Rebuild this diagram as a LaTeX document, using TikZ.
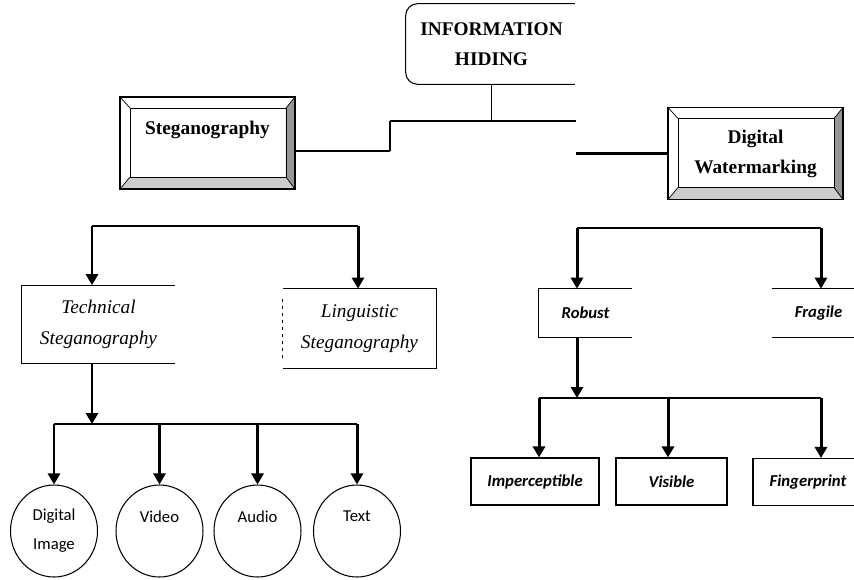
\documentclass[tikz,border=0pt]{standalone}
\usepackage{fontspec}
\setmainfont{Liberation Serif}
\newfontfamily\calibri{Carlito}
\usepackage{tikz}
\usetikzlibrary{arrows.meta}
\usetikzlibrary{shapes.geometric}
\definecolor{bevellight}{HTML}{CCCCCC}
\definecolor{beveldark}{HTML}{969696}
\tikzstyle{boxline}=[line width=0.6pt]
\tikzstyle{link}=[line width=0.7pt]
\tikzstyle{heavylink}=[line width=1.2pt]
\tikzstyle{forkline}=[line width=1.4pt]
\tikzstyle{flow}=[line width=1.7pt, -{Triangle[length=2.2mm,width=2.4mm]}]
\tikzstyle{hidebox}=[inner sep=0pt, minimum width=3.42cm, minimum height=1.6cm, align=center, font=\fontsize{11}{17}\selectfont\bfseries]
\tikzstyle{bevel}=[draw, line width=0.8pt, inner sep=0pt, minimum width=3.5cm, minimum height=1.84cm, align=center, font=\fontsize{11}{17}\selectfont\bfseries,
  path picture={
    \fill[bevellight] (path picture bounding box.south west) -- (path picture bounding box.south east)
      -- ++(-0.18cm,0.24cm) -- ++(-3.12cm,0cm) -- cycle;
    \fill[beveldark] (path picture bounding box.south east) -- (path picture bounding box.north east)
      -- ++(-0.18cm,-0.22cm) -- ++(0cm,-1.38cm) -- cycle;
    \draw[line width=0.5pt] ([shift={(0.2cm,0.24cm)}]path picture bounding box.south west) rectangle ++(3.12cm,1.38cm);
    \draw[line width=0.4pt] (path picture bounding box.north west) -- ++(0.2cm,-0.22cm);
    \draw[line width=0.4pt] (path picture bounding box.north east) -- ++(-0.18cm,-0.22cm);
    \draw[line width=0.4pt] (path picture bounding box.south west) -- ++(0.2cm,0.24cm);
    \draw[line width=0.4pt] (path picture bounding box.south east) -- ++(-0.18cm,0.24cm);
  }]
\tikzstyle{stbox}=[inner sep=0pt, minimum width=3.06cm, minimum height=1.56cm, align=center, font=\fontsize{11}{17.6}\selectfont\itshape]
\tikzstyle{sbox}=[inner sep=0pt, minimum width=1.86cm, minimum height=0.96cm, font=\fontsize{9.5}{16.5}\calibri\bfseries\itshape]
\tikzstyle{tbox}=[draw, boxline, inner sep=0pt, minimum height=0.94cm, font=\fontsize{9.5}{16.5}\calibri\bfseries\itshape]
\tikzstyle{media}=[draw, ellipse, boxline, inner sep=0pt, minimum width=1.74cm, minimum height=1.84cm, align=center, font=\fontsize{9.5}{16.5}\calibri]

\begin{document}
\begin{tikzpicture}[x=0.02cm, y=-0.02cm]
    \useasboundingbox (0,0) rectangle (854,579);
    % top level
    \node[hidebox] (hid) at (491.5,44) {INFORMATION\\HIDING};
    \draw[boxline, rounded corners=0.24cm] ([xshift=-0.05cm]hid.north east) -- (hid.north west) -- (hid.south west) -- ([xshift=-0.05cm]hid.south east);
    \node[bevel] (steg) at (207.5,143) {Steganography\\~};
    \node[bevel] (wm) at (755.5,153.5) {Digital\\Watermarking};
    \coordinate (lelbow) at (390,121);
    \coordinate (relbow) at (576,121);
    \coordinate (stegarm) at ([yshift=-0.16cm]steg.east);
    \draw[link] (hid.south) -- (hid.south |- lelbow);
    \draw[link] (lelbow) -- (relbow);
    \draw[link] (lelbow) -- (lelbow |- stegarm);
    \draw[heavylink] (lelbow |- stegarm) -- (stegarm);
    \draw[heavylink] (relbow |- wm.west) -- (wm.west);
    % steganography branch
    \node[stbox] (tech) at (98.5,324.5) {Technical\\Steganography};
    \node[stbox, minimum height=1.58cm] (ling) at (359.5,328.5) {Linguistic\\Steganography};
    \draw[boxline] (tech.north east) -- (tech.north west) -- (tech.south west) -- (tech.south east);
    \draw[boxline] (ling.north west) -- (ling.north east) -- (ling.south east) -- (ling.south west);
    \draw[boxline, dash pattern=on 2pt off 2pt] ([yshift=-0.2cm]ling.north west) -- ([yshift=0.2cm]ling.south west);
    \coordinate (ltop) at (92,226);
    \coordinate (lingtop) at (358,226);
    \draw[link] (ltop) -- (lingtop);
    \draw[flow] (ltop) -- (ltop |- tech.north);
    \draw[flow] (lingtop) -- (lingtop |- ling.north);
    \node[media] (img) at (54,531) {Digital\\Image};
    \node[media] (vid) at (159.5,531) {Video\\~};
    \node[media] (aud) at (257.5,531) {Audio\\~};
    \node[media] (txt) at (357,531) {Text\\~};
    \coordinate (lfork) at (92,424);
    \draw[flow] (tech.south -| lfork) -- (lfork);
    \draw[forkline] (img.north |- lfork) -- (txt.north |- lfork);
    \draw[flow] (img.north |- lfork) -- (img.north);
    \draw[flow] (vid.north |- lfork) -- (vid.north);
    \draw[flow] (aud.north |- lfork) -- (aud.north);
    \draw[flow] (txt.north |- lfork) -- (txt.north);
    % watermarking branch
    \node[sbox] (rob) at (585.5,313) {Robust};
    \node[sbox] (frag) at (818.5,313) {Fragile};
    \draw[boxline] (rob.north east) -- (rob.north west) -- (rob.south west) -- (rob.south east);
    \draw[boxline] (frag.north west) -- (frag.north east);
    \draw[boxline] (frag.south west) -- (frag.south east);
    \coordinate (rtop) at (577,228);
    \coordinate (fragtop) at (821,228);
    \draw[link] (rtop) -- (fragtop);
    \draw[flow] (rtop) -- (rtop |- rob.north);
    \draw[flow] (fragtop) -- (fragtop |- frag.north);
    \node[tbox, minimum width=2.56cm] (imp) at (535,481.5) {Imperceptible};
    \node[tbox, minimum width=2.22cm] (vis) at (671.5,481.5) {Visible};
    \node[tbox, minimum width=2.2cm] (fing) at (808,482) {Fingerprint};
    \coordinate (rfork) at (577,398);
    \coordinate (rimp) at (539,398);
    \coordinate (rvis) at (668,398);
    \coordinate (rfing) at (821,398);
    \draw[flow] (rob.south -| rfork) -- (rfork);
    \draw[forkline] (rimp) -- (rfing);
    \draw[flow] (rimp) -- (rimp |- imp.north);
    \draw[flow] (rvis) -- (rvis |- vis.north);
    \draw[flow] (rfing) -- (rfing |- fing.north);
\end{tikzpicture}
\end{document}
